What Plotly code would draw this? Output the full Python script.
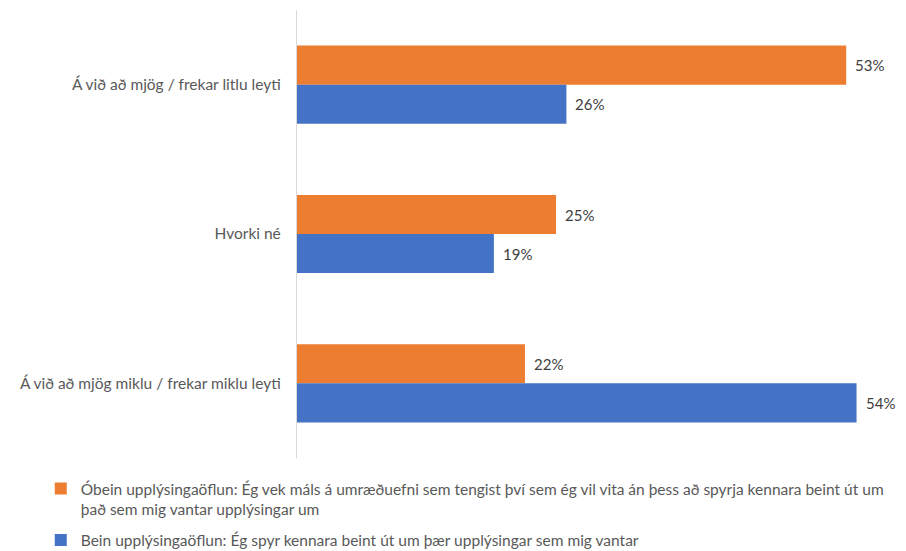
import plotly.graph_objects as go

categories = ["Á við að mjög / frekar litlu leyti", "Hvorki né", "Á við að mjög miklu / frekar miklu leyti"]
series_names = [
    "Óbein upplýsingaöflun: Ég vek máls á umræðuefni sem tengist því sem ég vil vita án þess að spyrja kennara beint út um<br>það sem mig vantar upplýsingar um",
    "Bein upplýsingaöflun: Ég spyr kennara beint út um þær upplýsingar sem mig vantar",
]
obein = [0.53, 0.25, 0.22]
bein = [0.26, 0.19, 0.54]
colors = ["#ED7D31", "#4472C4"]

FONT = "Lato"
fig = go.Figure()
for i, (name, vals, col) in enumerate(zip(series_names, [obein, bein], colors)):
    fig.add_trace(go.Bar(
        y=categories, x=vals, name=name, orientation="h",
        marker=dict(color=col, line=dict(width=0)),
        textposition="none", legendgroup=f"g{i}",
        hoverinfo="x+y",
    ))

# value labels just outside bar ends
annotations = []
for vals, shift in [(obein, 19.5), (bein, -19.5)]:
    for cat, v in zip(categories, vals):
        annotations.append(dict(
            x=v, y=cat, xref="x", yref="y", text=f"{v:.0%}", showarrow=False,
            xanchor="left", xshift=7, yshift=shift,
            font=dict(family=FONT, size=15, color="#404040"),
        ))

fig.update_layout(
    width=906, height=551,
    margin=dict(l=297, r=8, t=10, b=93, autoexpand=False),
    plot_bgcolor="white", paper_bgcolor="white",
    barmode="group", bargap=0.477, bargroupgap=0,
    font=dict(family=FONT, size=15, color="#595959"),
    xaxis=dict(range=[0, 0.58], showgrid=False, zeroline=False, showticklabels=False,
               showline=False, fixedrange=True, automargin=False),
    yaxis=dict(autorange="reversed", showline=True, linecolor="#D9D9D9", linewidth=1.2,
               ticks="", ticklabelstandoff=12, showgrid=False, automargin=False,
               tickfont=dict(family=FONT, size=15.5, color="#595959")),
    legend=dict(orientation="v", xref="container", yref="container",
                x=0.045, y=1 - 472 / 551, xanchor="left", yanchor="top",
                font=dict(family=FONT, size=15.5, color="#595959"),
                tracegroupgap=8, itemwidth=30, valign="top"),
    showlegend=True,
    annotations=annotations,
)

fig.write_html("out.html")
